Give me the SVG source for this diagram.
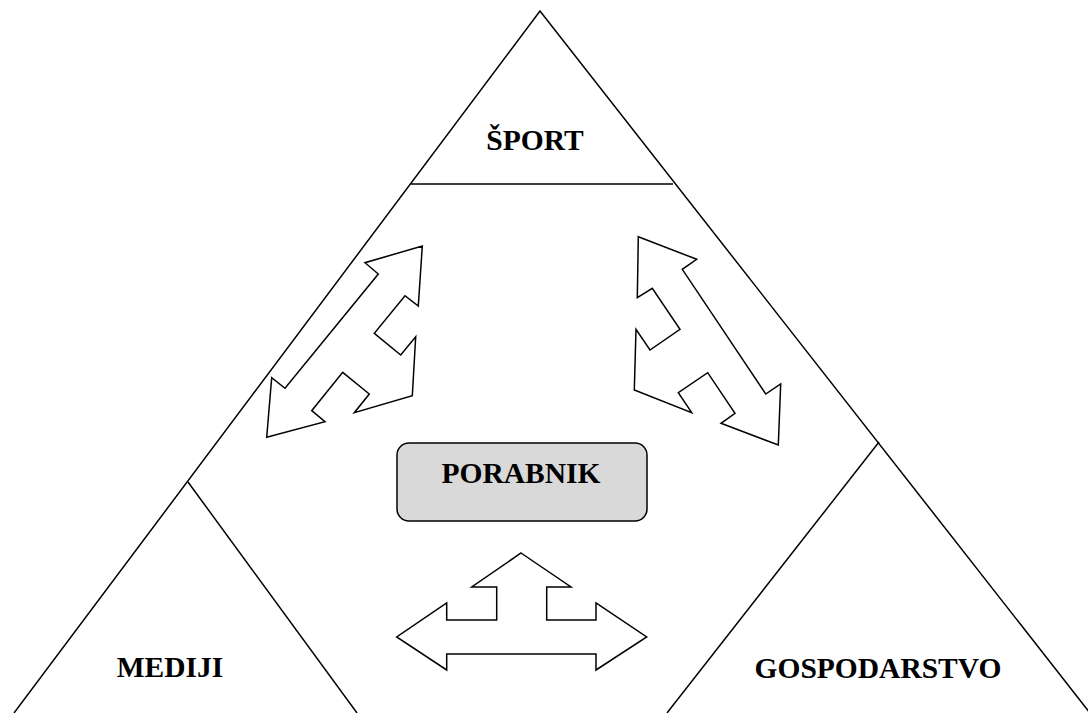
<svg xmlns="http://www.w3.org/2000/svg" width="1088" height="713" viewBox="0 0 1088 713">
<style>
.ln{fill:none;stroke:#000;stroke-width:1.5;stroke-linejoin:miter}
.ar{fill:#fff;stroke:#000;stroke-width:1.5;stroke-linejoin:miter}
.lbl{font-family:"Liberation Serif","Times New Roman",serif;font-weight:bold;font-size:29.5px;fill:#000;text-anchor:middle}
</style>
<rect x="0" y="0" width="1088" height="713" fill="#fff"/>
<g id="pyramid">
<polyline class="ln" points="14,713 540,11 1090,713"/>
</g>
<g id="sport">
<line class="ln" x1="411" y1="184" x2="673" y2="184"/>
<text class="lbl" x="535" y="150">ŠPORT</text>
</g>
<g id="mediji">
<line class="ln" x1="188" y1="482" x2="357" y2="713"/>
<text class="lbl" x="170" y="677">MEDIJI</text>
</g>
<g id="gospodarstvo">
<line class="ln" x1="879" y1="442" x2="667" y2="713"/>
<text class="lbl" x="878" y="678">GOSPODARSTVO</text>
</g>
<g id="porabnik">
<rect x="397" y="443" width="250" height="78" rx="12" ry="12" fill="#d9d9d9" stroke="#000" stroke-width="1.5"/>
<text class="lbl" x="521" y="483">PORABNIK</text>
</g>
<g id="connectors">
<polygon id="arrow-left" class="ar" points="422.3,246 418.3,306 405,295.7 374.3,333.3 400.7,355 415.7,336.7 412.3,395.7 354.3,412.7 369.3,394 342.7,372.3 311.7,410.7 325,421.7 266.7,437.3 271.7,377.7 285,388.3 378.3,274 365,262.7"/>
<polygon id="arrow-right" class="ar" points="638.3,236.7 696.7,259.3 682.3,269.3 765.7,394 780.7,384 778.3,445 721,423.3 735,413.3 707.7,372.7 678.3,392.7 691.7,412.7 634.3,390 636,329.3 650,350 680,329.3 652.3,288.3 637.3,297.7"/>
<polygon id="arrow-bottom" class="ar" points="521,553 571,587 546.7,587 546.7,620 596,620 596,603 646.7,637 596,670 596,654 446.7,654 446.7,670 396.7,637 446.7,603 446.7,620 496.7,620 496.7,587 471.7,587"/>
</g>
</svg>
